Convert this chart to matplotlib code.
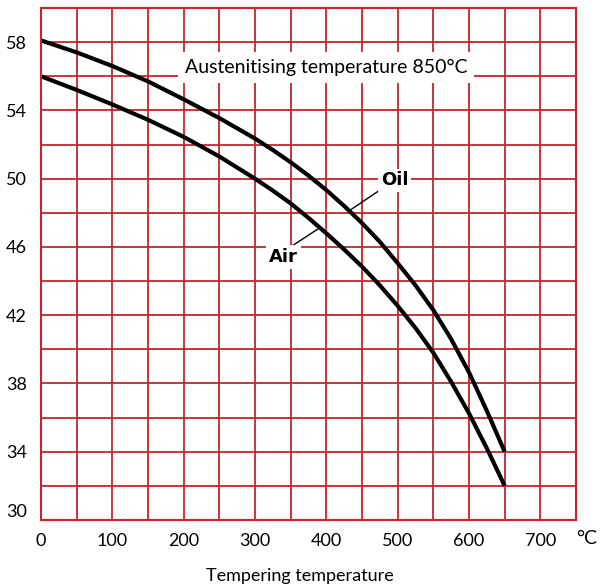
import matplotlib
matplotlib.use("Agg")
import matplotlib.pyplot as plt
import numpy as np

plt.rcParams['font.family'] = ['Lato', 'DejaVu Sans']

# tempering temperature (C) and hardness
temp = [0, 50, 100, 150, 200, 250, 300, 325, 350, 375, 400, 425, 450,
        475, 500, 525, 550, 575, 600, 625, 650]
oil = [58.1, 57.4, 56.6, 55.7, 54.65, 53.55, 52.35, 51.68, 50.96, 50.18, 49.33, 48.4, 47.4,
       46.3, 45.05, 43.75, 42.3, 40.6, 38.65, 36.4, 34.0]
air = [56.0, 55.2, 54.35, 53.45, 52.45, 51.3, 50.0, 49.3, 48.55, 47.7, 46.8, 45.85, 44.85,
       43.75, 42.55, 41.25, 39.8, 38.1, 36.25, 34.2, 32.0]

xticks = [0, 100, 200, 300, 400, 500, 600, 700]
yticks = [30, 34, 38, 42, 46, 50, 54, 58]

grid_red = '#c4262b'

fig = plt.figure(figsize=(6, 5.88), dpi=100)
ax = fig.add_axes([41/600, 68/588, 535/600, 512/588])

ax.set_xlim(0, 750)
ax.set_ylim(30, 60)
ax.set_xticks(np.arange(0, 751, 50), minor=True)
ax.set_yticks(np.arange(30, 61, 2), minor=True)
ax.set_xticks(xticks)
ax.set_yticks(yticks)
ax.grid(which='both', color=grid_red, linewidth=1.3)
ax.set_axisbelow(True)
ax.tick_params(which='both', length=0, labelsize=13, colors='black')
ax.tick_params(axis='x', pad=9)
ax.tick_params(axis='y', pad=10)
for s in ax.spines.values():
    s.set_color(grid_red)
    s.set_linewidth(1.5)
ax.get_yticklabels()[0].set_verticalalignment('bottom')

ax.plot(temp, oil, color='black', lw=3, solid_capstyle='butt', solid_joinstyle='round')
ax.plot(temp, air, color='black', lw=3, solid_capstyle='butt', solid_joinstyle='round')

ax.text(400, 56.5, 'Austenitising temperature 850°C', ha='center', va='center',
        fontsize=14, bbox=dict(facecolor='white', edgecolor='none',
                               boxstyle='square,pad=0.35'))

# leader lines to curve labels
ax.plot([474, 435], [49.3, 48.2], color='black', lw=1)
ax.plot([352, 390], [46.06, 47.1], color='black', lw=1)
ax.text(496, 49.9, 'Oil', ha='center', va='center', fontsize=13, fontweight='bold',
        family='DejaVu Sans', bbox=dict(facecolor='white', edgecolor='none', pad=2))
ax.text(340, 45.4, 'Air', ha='center', va='center', fontsize=13, fontweight='bold',
        family='DejaVu Sans', bbox=dict(facecolor='white', edgecolor='none', pad=2))

fig.text(587/600, 1 - 538/588, '°C', ha='center', va='center', fontsize=14)
fig.text(300/600, 1 - 576/588, 'Tempering temperature', ha='center', va='center', fontsize=13)

fig.savefig('out.png', dpi=100)
